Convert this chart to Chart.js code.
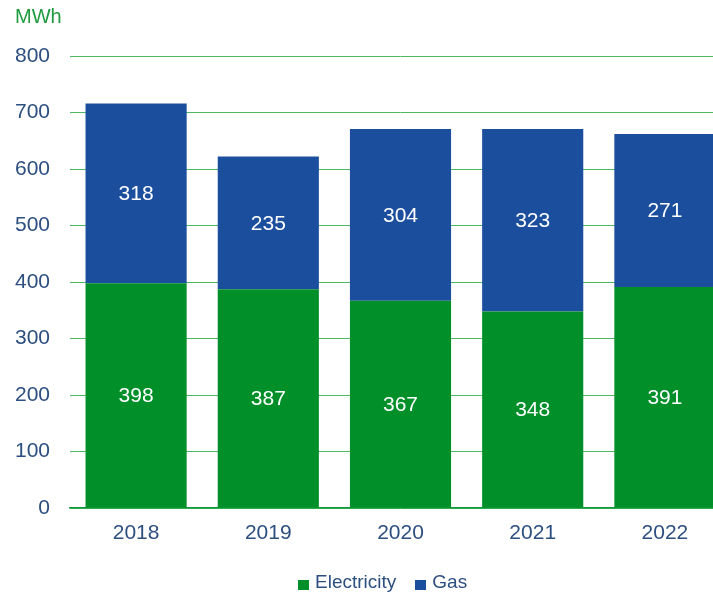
<!DOCTYPE html>
<html>
<head>
<meta charset="utf-8">
<script src="https://cdn.jsdelivr.net/npm/chart.js@4/dist/chart.umd.min.js"></script>
<style>
  html, body { margin: 0; padding: 0; background: #fff; width: 713px; height: 594px; overflow: hidden; }
  #wrap { position: relative; width: 731px; height: 594px; }
  #unit { position: absolute; left: 15px; top: 5px; font: 20px "Liberation Sans", Arial, sans-serif; color: #1f9a3e; }
  #legend { position: absolute; left: 298px; top: 571px; font: 19px "Liberation Sans", Arial, sans-serif; color: #2c4f80; display: flex; align-items: center; white-space: nowrap; }
  #legend .box { display: inline-block; width: 11px; height: 10px; margin-right: 6px; margin-top: 5px; }
  #legend .item { display: flex; align-items: center; margin-right: 19px; }
</style>
</head>
<body>
<div id="wrap">
  <canvas id="c" width="731" height="594"></canvas>
  <div id="unit">MWh</div>
  <div id="legend"></div>
</div>
<script>
const categories = ['2018', '2019', '2020', '2021', '2022'];
const electricity = [398, 387, 367, 348, 391];
const gas = [318, 235, 304, 323, 271];
const seriesNames = ['Electricity', 'Gas'];
const yTicks = [0, 100, 200, 300, 400, 500, 600, 700, 800];

const GREEN = '#008f29';
const BLUE = '#1b4f9e';
const TICK = '#2c4f80';
const FONT = '"Liberation Sans", Arial, sans-serif';

const valueLabels = {
  id: 'valueLabels',
  afterDatasetsDraw(chart) {
    const ctx = chart.ctx;
    ctx.save();
    ctx.fillStyle = '#ffffff';
    ctx.font = '21px ' + FONT;
    ctx.textAlign = 'center';
    ctx.textBaseline = 'middle';
    chart.data.datasets.forEach((ds, di) => {
      chart.getDatasetMeta(di).data.forEach((bar, i) => {
        const p = bar.getProps(['x', 'y', 'base'], true);
        ctx.fillText(String(ds.data[i]), p.x, (p.y + p.base) / 2 + 1);
      });
    });
    ctx.restore();
  }
};

const chart = new Chart(document.getElementById('c'), {
  type: 'bar',
  data: {
    labels: categories,
    datasets: [
      { label: seriesNames[0], data: electricity, backgroundColor: GREEN },
      { label: seriesNames[1], data: gas, backgroundColor: BLUE }
    ]
  },
  options: {
    responsive: false,
    animation: false,
    layout: { padding: { top: 56, right: 0, bottom: 0, left: 0 } },
    plugins: { legend: { display: false }, tooltip: { enabled: false } },
    datasets: { bar: { categoryPercentage: 1, barPercentage: 0.765 } },
    scales: {
      x: {
        stacked: true,
        grid: { display: false, drawTicks: false },
        border: { display: true, color: '#129a3a', width: 1.5 },
        ticks: { color: TICK, font: { family: FONT, size: 21 }, padding: 13 },
        afterFit(s) { s.height = 86; }
      },
      y: {
        stacked: true,
        min: 0, max: 800,
        afterBuildTicks(s) { s.ticks = yTicks.map(v => ({ value: v })); },
        grid: { color: '#4cb862', lineWidth: 1, drawTicks: false },
        border: { display: false },
        ticks: { color: TICK, font: { family: FONT, size: 21 }, padding: 20 },
        afterFit(s) { s.width = 70; }
      }
    }
  },
  plugins: [valueLabels]
});

const legend = document.getElementById('legend');
chart.data.datasets.forEach(ds => {
  const item = document.createElement('span');
  item.className = 'item';
  const box = document.createElement('span');
  box.className = 'box';
  box.style.background = ds.backgroundColor;
  item.appendChild(box);
  item.appendChild(document.createTextNode(ds.label));
  legend.appendChild(item);
});
</script>
</body>
</html>
